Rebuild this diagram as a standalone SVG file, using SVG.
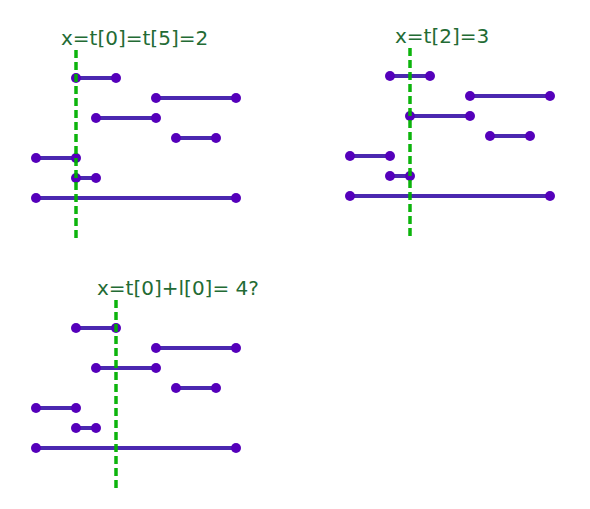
<svg xmlns="http://www.w3.org/2000/svg" width="590" height="509" viewBox="0 0 590 509">
<style>
.seg{stroke:#4b28b0;stroke-width:4;stroke-linecap:round}
.dot{fill:#5500bb}
.vl{stroke:#00b000;stroke-width:3.5;stroke-dasharray:8,4;opacity:0.95}
.lbl{font-family:"DejaVu Sans",sans-serif;font-size:20px;fill:#236b34}
</style>
<defs>
<g id="segs">
<line class="seg" x1="76" y1="78" x2="116" y2="78"/><circle class="dot" cx="76" cy="78" r="5"/><circle class="dot" cx="116" cy="78" r="5"/>
<line class="seg" x1="156" y1="98" x2="236" y2="98"/><circle class="dot" cx="156" cy="98" r="5"/><circle class="dot" cx="236" cy="98" r="5"/>
<line class="seg" x1="96" y1="118" x2="156" y2="118"/><circle class="dot" cx="96" cy="118" r="5"/><circle class="dot" cx="156" cy="118" r="5"/>
<line class="seg" x1="176" y1="138" x2="216" y2="138"/><circle class="dot" cx="176" cy="138" r="5"/><circle class="dot" cx="216" cy="138" r="5"/>
<line class="seg" x1="36" y1="158" x2="76" y2="158"/><circle class="dot" cx="36" cy="158" r="5"/><circle class="dot" cx="76" cy="158" r="5"/>
<line class="seg" x1="76" y1="178" x2="96" y2="178"/><circle class="dot" cx="76" cy="178" r="5"/><circle class="dot" cx="96" cy="178" r="5"/>
<line class="seg" x1="36" y1="198" x2="236" y2="198"/><circle class="dot" cx="36" cy="198" r="5"/><circle class="dot" cx="236" cy="198" r="5"/>
</g>
</defs>
<g id="panel1">
<use href="#segs"/>
<line class="vl" x1="76" y1="50" x2="76" y2="238"/>
<text class="lbl" x="61" y="45">x=t[0]=t[5]=2</text>
</g>
<g id="panel2">
<use href="#segs" transform="translate(314,-2)"/>
<line class="vl" x1="410" y1="48" x2="410" y2="236"/>
<text class="lbl" x="395" y="43">x=t[2]=3</text>
</g>
<g id="panel3">
<use href="#segs" transform="translate(0,250)"/>
<line class="vl" x1="116" y1="300" x2="116" y2="488"/>
<text class="lbl" x="97" y="295">x=t[0]+l[0]= 4?</text>
</g>
</svg>
